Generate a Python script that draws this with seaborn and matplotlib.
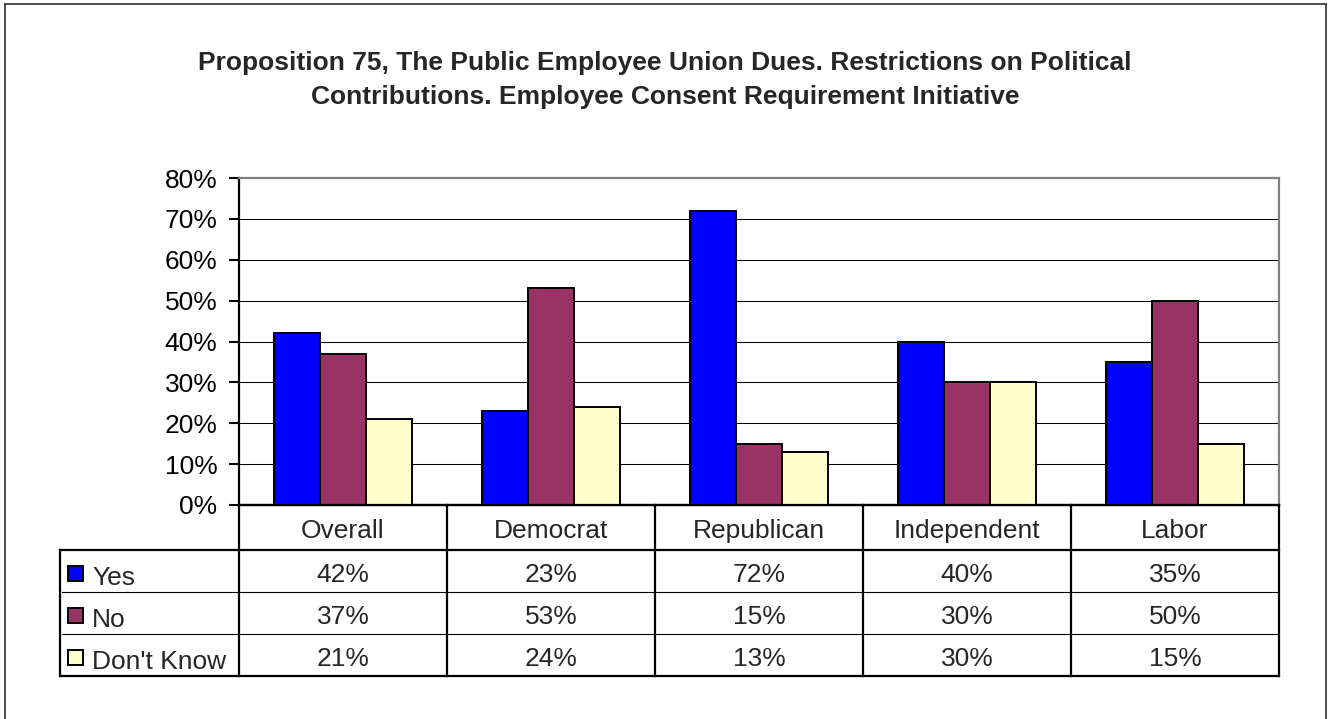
import matplotlib
matplotlib.use("Agg")
import matplotlib.pyplot as plt
from matplotlib.lines import Line2D
from matplotlib.patches import Rectangle
import seaborn as sns
import pandas as pd

# ---- data ----
categories = ["Overall", "Democrat", "Republican", "Independent", "Labor"]
series_names = ["Yes", "No", "Don't Know"]
yes_values = [42, 23, 72, 40, 35]
no_values = [37, 53, 15, 30, 50]
dont_know_values = [21, 24, 13, 30, 15]
y_ticks = [0, 10, 20, 30, 40, 50, 60, 70, 80]
title_text = ("Proposition 75, The Public Employee Union Dues. Restrictions on Political\n"
              "Contributions. Employee Consent Requirement Initiative")
colors = ["#0000FF", "#993366", "#FFFFCC"]

series_values = [yes_values, no_values, dont_know_values]
df = pd.DataFrame({
    "group": [c for s in series_values for c in categories],
    "series": [n for n, s in zip(series_names, series_values) for _ in s],
    "value": [v for s in series_values for v in s],
})

sns.set_style("white")
plt.rcParams["font.family"] = ["Liberation Sans", "DejaVu Sans"]

FS = 19
W, H = 1330, 719
fig = plt.figure(figsize=(W / 100, H / 100), dpi=100)
fig.patch.set_facecolor("white")


def fx(x):
    return x / W


def fy(y):
    return 1 - y / H


L, R, T, B = 239, 1279, 178, 505
ax = fig.add_axes([fx(L), fy(B), fx(R) - fx(L), (B - T) / H])

sns.barplot(data=df, x="group", y="value", hue="series", order=categories,
            hue_order=series_names, palette=colors, saturation=1,
            width=0.663, gap=0, edgecolor="black", linewidth=1.4,
            legend=False, ax=ax, zorder=3)

ax.set_xlim(-0.5, len(categories) - 0.5)
ax.set_ylim(0, 80)
ax.set_yticks(y_ticks)
ax.set_yticklabels([f"{t}%" for t in y_ticks], fontsize=FS)
ax.set_xlabel("")
ax.set_ylabel("")
ax.tick_params(axis="x", length=0, labelbottom=False)
ax.tick_params(axis="y", direction="out", length=7.5, width=1.5, color="black",
               pad=8, left=True, labelcolor="black")
ax.set_axisbelow(True)
for t in y_ticks[1:-1]:
    ax.axhline(t, color="black", lw=0.75, zorder=1)
ax.spines["top"].set_color("#808080")
ax.spines["top"].set_linewidth(1.6)
ax.spines["right"].set_color("#808080")
ax.spines["right"].set_linewidth(1.6)
ax.spines["left"].set_color("black")
ax.spines["left"].set_linewidth(1.6)
ax.spines["bottom"].set_color("black")
ax.spines["bottom"].set_linewidth(1.6)

# ---- title ----
fig.text(fx(665), fy(80), title_text, ha="center", va="center",
         fontsize=FS, fontweight="bold", linespacing=1.5)

# ---- data table ----
col_w = (R - L) / len(categories)
col_edges = [L + i * col_w for i in range(len(categories) + 1)]
row_lines = [550, 592, 634, 676]
TL = 60


def hline(y, x0, x1, lw, color="black"):
    fig.add_artist(Line2D([fx(x0), fx(x1)], [fy(y), fy(y)], color=color, lw=lw,
                          transform=fig.transFigure, solid_capstyle="projecting"))


def vline(x, y0, y1, lw, color="black"):
    fig.add_artist(Line2D([fx(x), fx(x)], [fy(y0), fy(y1)], color=color, lw=lw,
                          transform=fig.transFigure, solid_capstyle="projecting"))


hline(B, L, R, 1.6)
hline(row_lines[0], TL, R, 1.6)
hline(row_lines[-1], TL, R, 1.6)
for y in row_lines[1:-1]:
    hline(y, TL + 2, R - 2, 0.8)
for x in col_edges:
    vline(x, B, row_lines[-1], 1.6)
vline(TL, row_lines[0], row_lines[-1], 1.6)

for i, c in enumerate(categories):
    cx = (col_edges[i] + col_edges[i + 1]) / 2
    fig.text(fx(cx), fy(538), c, ha="center", va="baseline", fontsize=FS)

value_baselines = [582, 624, 666]
label_baselines = [585, 627, 669]
key_tops = [566, 608, 650]
for s, (name, vals) in enumerate(zip(series_names, series_values)):
    for i, v in enumerate(vals):
        cx = (col_edges[i] + col_edges[i + 1]) / 2
        fig.text(fx(cx), fy(value_baselines[s]), f"{v}%", ha="center",
                 va="baseline", fontsize=FS)
    fig.add_artist(Rectangle((fx(68), fy(key_tops[s] + 15)), 15 / W, 15 / H,
                             facecolor=colors[s], edgecolor="black", lw=1.4,
                             transform=fig.transFigure))
    fig.text(fx(92), fy(label_baselines[s]), name, ha="left", va="baseline",
             fontsize=FS)

# ---- outer chart border ----
vline(5, 4, H + 5, 1.3, "#404040")
hline(4, 5, 1326, 1.3, "#404040")
vline(1326, 4, H + 5, 1.3, "#404040")

fig.savefig("out.png", dpi=100, facecolor="white")
